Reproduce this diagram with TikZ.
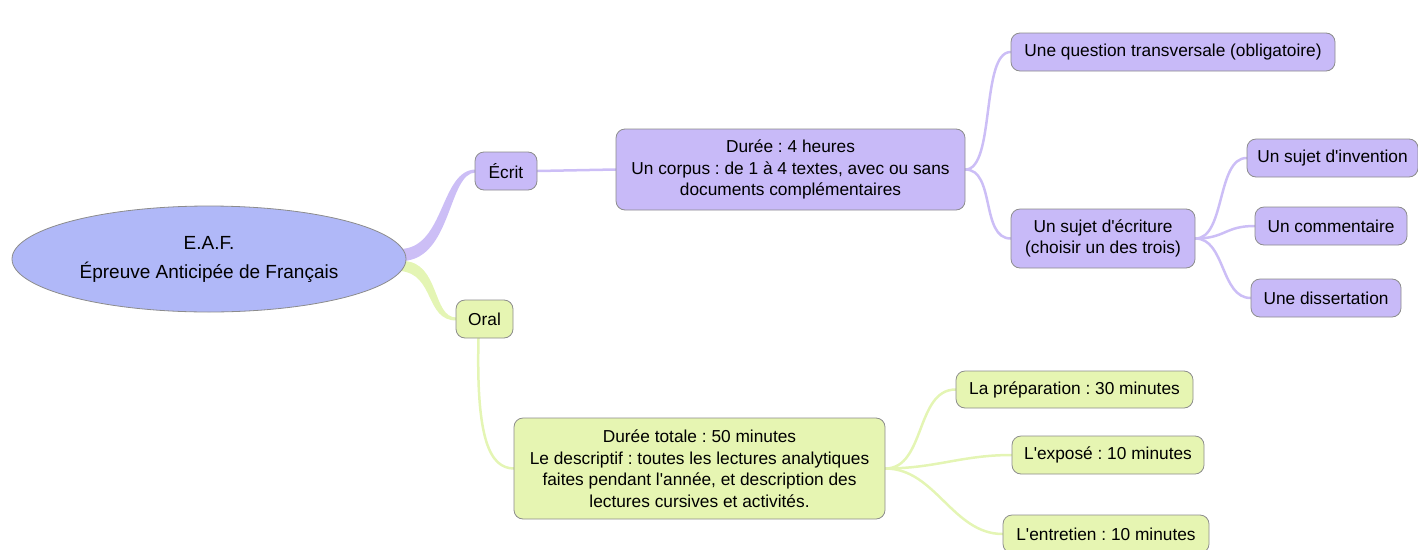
\documentclass[tikz,border=0pt]{standalone}
\usepackage{fontspec}
\setmainfont{Liberation Sans}
\usetikzlibrary{shapes.geometric,backgrounds,calc}
\definecolor{rootblue}{RGB}{176,184,248}
\definecolor{lilac}{RGB}{200,186,248}
\definecolor{lilacline}{RGB}{204,190,246}
\definecolor{lime}{RGB}{230,245,178}
\definecolor{limeline}{RGB}{228,245,180}
\tikzstyle{topic} = [rectangle, rounded corners=9pt, minimum height=38pt, inner xsep=3pt, text centered, align=center, draw=black!45, line width=0.8pt, font=\fontsize{17.3}{21.5}\selectfont]
\tikzstyle{ecritbox} = [topic, fill=lilac]
\tikzstyle{oralbox} = [topic, fill=lime]
\tikzstyle{twig} = [line width=2.5pt, line cap=round]
\pgfdeclarelayer{bg}
\pgfsetlayers{bg,main}
\frenchspacing
\newcommand{\ap}{\textquotesingle}

\begin{document}
\begin{tikzpicture}[x=1pt,y=1pt]
    \useasboundingbox (0,0) rectangle (1418,-549);

    \node [ellipse, draw=black!45, line width=0.8pt, fill=rootblue, inner sep=2pt, minimum width=394pt, minimum height=106pt, align=center, font=\fontsize{19}{29}\selectfont] (root) at (209,-259) {E.A.F.\\Épreuve Anticipée de Français};

    % written part
    \node [ecritbox, minimum width=62pt] (ecrit) at (506,-171) {Écrit};
    \node [ecritbox, minimum width=349pt, minimum height=81pt] (duree) at (790.5,-169.5) {Durée : 4 heures\\Un corpus : de 1 à 4 textes, avec ou sans\\documents complémentaires};
    \node [ecritbox, minimum width=324pt] (question) at (1173,-52) {Une question transversale (obligatoire)};
    \node [ecritbox, minimum width=184pt, minimum height=59pt] (sujet) at (1103,-238.5) {Un sujet d\ap écriture\\(choisir un des trois)};
    \node [ecritbox, minimum width=171pt] (invention) at (1332.5,-158) {Un sujet d\ap invention};
    \node [ecritbox, minimum width=152pt] (commentaire) at (1331,-226) {Un commentaire};
    \node [ecritbox, minimum width=150pt] (dissertation) at (1326,-298) {Une dissertation};

    % oral part
    \node [oralbox, minimum width=57pt] (oral) at (484.5,-319) {Oral};
    \node [oralbox, minimum width=371pt, minimum height=101pt] (dureetot) at (699.5,-468.5) {Durée totale : 50 minutes\\Le descriptif : toutes les lectures analytiques\\faites pendant l\ap année, et description des\\lectures cursives et activités.};
    \node [oralbox, minimum width=237pt, minimum height=37pt] (prepa) at (1074.5,-389.5) {La préparation : 30 minutes};
    \node [oralbox, minimum width=192pt] (expose) at (1108,-455) {L\ap exposé : 10 minutes};
    \node [oralbox, minimum width=206pt] (entretien) at (1106,-534) {L\ap entretien : 10 minutes};

    \begin{pgfonlayer}{bg} % background layer
    \fill[lilacline] ($(root.east)+(-6,10)$) .. controls (445,-248) and (440,-170) .. ($(ecrit.west)+(1,1.5)$) -- ($(ecrit.west)+(1,-1.5)$) .. controls (448,-173) and (452,-258) .. ($(root.east)+(-3,-2)$) -- cycle;
    \fill[limeline] ($(root.east)+(-3,-2)$) .. controls (440,-262) and (432,-318) .. ($(oral.west)+(1,1.5)$) -- ($(oral.west)+(1,-1.5)$) .. controls (425,-321) and (435,-274) .. ($(root.east)+(-6,-12)$) -- cycle;

    \draw[twig, lilacline] (ecrit.east) -- (duree.west);
    \draw[twig, lilacline] (duree.east) .. controls +(30,0) and +(-30,0) .. (question.west);
    \draw[twig, lilacline] (duree.east) .. controls +(30,0) and +(-30,0) .. (sujet.west);
    \draw[twig, lilacline] (sujet.east) .. controls +(30,0) and +(-30,0) .. (invention.west);
    \draw[twig, lilacline] (sujet.east) .. controls +(30,0) and +(-30,0) .. (commentaire.west);
    \draw[twig, lilacline] (sujet.east) .. controls +(30,0) and +(-30,0) .. (dissertation.west);

    \draw[twig, limeline] ($(oral.south)+(-6,0)$) .. controls (476,-440) and (490,-468) .. (dureetot.west);
    \draw[twig, limeline] (dureetot.east) .. controls +(40,0) and +(-40,0) .. (prepa.west);
    \draw[twig, limeline] (dureetot.east) .. controls +(50,0) and +(-50,0) .. (expose.west);
    \draw[twig, limeline] (dureetot.east) .. controls +(50,0) and +(-50,0) .. (entretien.west);
    \end{pgfonlayer}
\end{tikzpicture}
\end{document}
